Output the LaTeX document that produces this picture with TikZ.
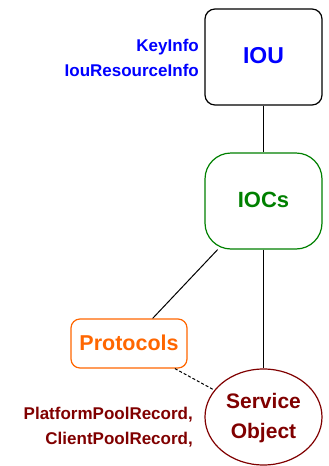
\documentclass[tikz,border=0pt]{standalone}
\usepackage{fontspec}
\setmainfont{Liberation Sans}
\usetikzlibrary{shapes.geometric}
\definecolor{cblue}{RGB}{0,0,255}
\definecolor{cgreen}{RGB}{0,128,0}
\definecolor{corange}{RGB}{255,102,0}
\definecolor{cbrown}{RGB}{128,0,0}
\begin{document}
\begin{tikzpicture}[x=1pt,y=-1pt,
  box/.style={draw,line width=1.2pt,inner sep=0pt,minimum width=117pt,minimum height=96pt,font=\bfseries},
  link/.style={line width=1pt,black},
  lbl/.style={inner sep=0pt,anchor=base east,font=\fontsize{17}{24}\selectfont\bfseries}]
\useasboundingbox (0,0) rectangle (329,466);
\node[box,rounded corners=10pt,text=cblue,font=\fontsize{23}{28}\selectfont\bfseries] (iou) at (263.5,57) {\raisebox{3pt}{IOU}};
\node[box,draw=cgreen,rounded corners=26pt,text=cgreen,font=\fontsize{22}{28}\selectfont\bfseries] (iocs) at (263.5,201) {\raisebox{3pt}{IOCs}};
\node[box,draw=corange,rounded corners=9pt,minimum width=116pt,minimum height=49pt,text=corange,font=\fontsize{21.5}{26}\selectfont\bfseries] (prot) at (129,343.5) {\raisebox{2pt}{Protocols}};
\node[box,ellipse,draw=cbrown,text=cbrown,font=\fontsize{21}{30}\selectfont\bfseries] (svc) at (263.5,417) {\raisebox{-3pt}{\begin{tabular}{@{}c@{}}Service\\Object\end{tabular}}};
\node[lbl,text=cblue] (keyinfo) at (199,51) {KeyInfo};
\node[lbl,text=cblue] (iouri) at (199,76) {IouResourceInfo};
\node[lbl,text=cbrown] (ppr) at (193,419.5) {PlatformPoolRecord,};
\node[lbl,text=cbrown] (cpr) at (193,444) {ClientPoolRecord,};
\draw[link] (iou.south) -- (iocs.north);
\draw[link] (iocs.south) -- (svc.north);
\draw[link] (iocs) -- (prot);
\draw[link,dash pattern=on 3pt off 2pt] (prot) -- (svc);
\end{tikzpicture}
\end{document}
